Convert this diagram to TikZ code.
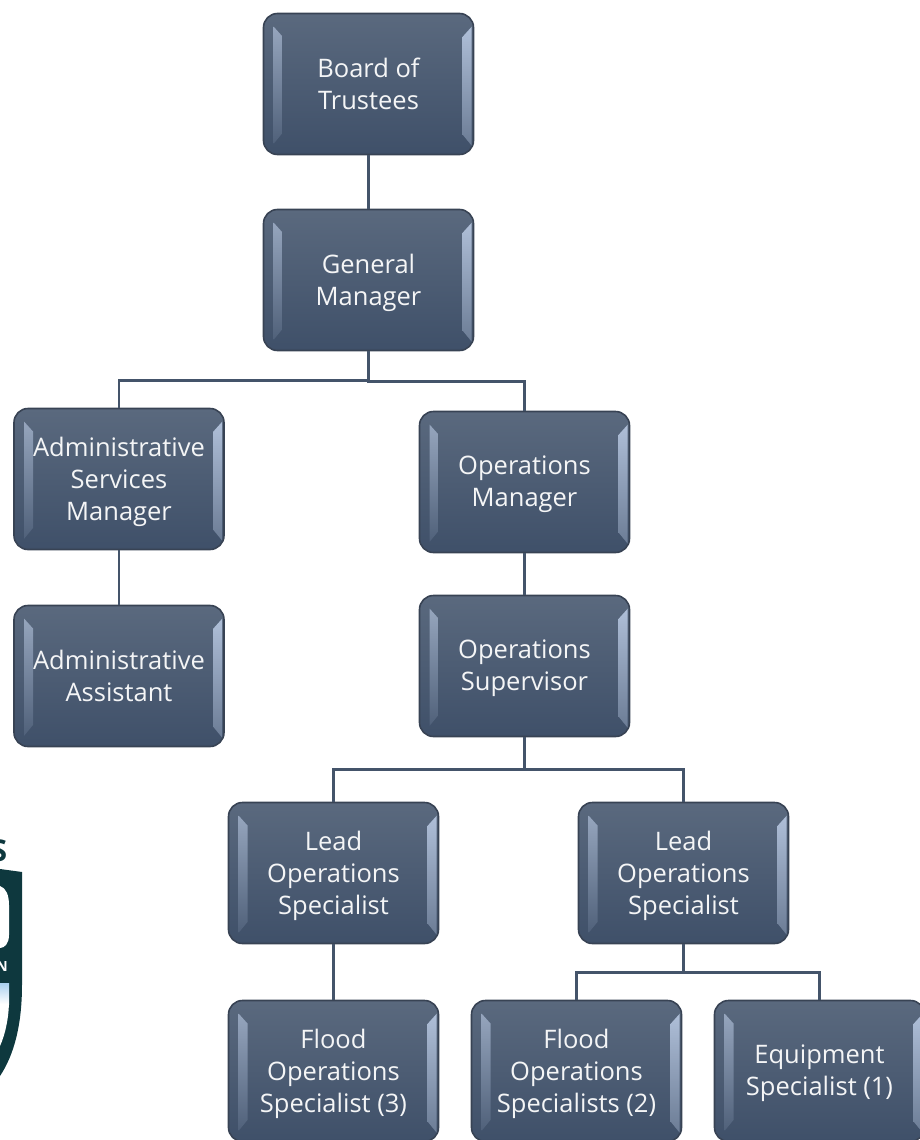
\documentclass[tikz,border=0pt]{standalone}
\usepackage{fontspec}
\setmainfont{Open Sans}
\definecolor{boxtop}{HTML}{5A697E}
\definecolor{boxbot}{HTML}{3F5069}
\definecolor{boxedge}{HTML}{384354}
\definecolor{boxlight}{HTML}{AFBFD8}
\definecolor{linkcol}{HTML}{44546A}
\definecolor{logocol}{HTML}{0E383E}
\definecolor{logosky}{HTML}{A9D0EE}
\tikzset{
	bevel left/.style={top color=boxlight!70!boxtop,middle color=boxlight!70!boxtop,bottom color=boxlight!15!boxbot},
	bevel right/.style={top color=boxlight,middle color=boxlight!55!boxtop,bottom color=boxlight!40!boxbot},
	orgbox/.style={
		draw=boxedge,line width=1.6pt,rounded corners=14pt,
		minimum width=210pt,minimum height=141pt,inner sep=0pt,
		top color=boxtop,bottom color=boxbot,text=white!93!boxtop,align=center,
		font=\fontsize{25.5}{32}\selectfont,
		text depth=1pt},
	link lines/.style={line width=2.6pt,linkcol}
}
\begin{document}
\begin{tikzpicture}[x=1pt,y=-1pt]
	\useasboundingbox (0,0) rectangle (920,1140);
	% logo at the left edge
	\fill[logocol] (0,869) -- (22,872) -- (22,985) .. controls (22,1025) and (14,1055) .. (0,1076) -- cycle;
	\fill[white] (0,886) .. controls (6,888) and (9,895) .. (9,905) -- (9,935) .. controls (9,943) and (5,948) .. (0,948) -- cycle;
	\fill[white] (0,1000) -- (9,1000) .. controls (9,1018) and (5,1035) .. (0,1046) -- cycle;
	\shade[top color=logosky,bottom color=white] (0,983) rectangle (9,1004);
	\node[inner sep=0pt,text=white,font=\fontsize{14}{14}\selectfont\bfseries] (logon) at (2,966) {N};
	\node[inner sep=0pt,text=logocol,font=\fontsize{30}{30}\selectfont\bfseries] (logos) at (-1,851) {S};

	\node[orgbox] (board) at (368.5,84) {Board of\\Trustees};
	\node[orgbox] (gm) at (368.5,280) {General\\Manager};
	\node[orgbox] (asm) at (119,479) {Administrative\\Services\\Manager};
	\node[orgbox] (aa) at (119,676) {Administrative\\Assistant};
	\node[orgbox] (om) at (524.5,482) {Operations\\Manager};
	\node[orgbox] (os) at (524.5,666) {Operations\\Supervisor};
	\node[orgbox] (lead1) at (333.5,873) {Lead\\Operations\\Specialist};
	\node[orgbox] (lead2) at (683.5,873) {Lead\\Operations\\Specialist};
	\node[orgbox] (flood3) at (333.5,1071) {Flood\\Operations\\Specialist (3)};
	\node[orgbox] (flood2) at (576.5,1071) {Flood\\Operations\\Specialists (2)};
	\node[orgbox] (equip) at (819.5,1071) {Equipment\\Specialist (1)};

	% light strips on the sides of each box
	\foreach \b in {board,gm,asm,aa,om,os,lead1,lead2,flood3,flood2,equip} {
		\begin{scope}[shift={(\b.north west)}]
			\shade[bevel left] (11,14) -- (20,24) -- (20,120) -- (11,131) -- cycle;
			\shade[bevel right] (209,14) -- (200,24) -- (200,122) -- (209,133) -- cycle;
		\end{scope}
	}

	\draw[link lines] (board) -- (gm);
	\draw[link lines] (gm.south) -- ++(0,29) -| (asm.north);
	\draw[link lines] (gm.south) -- ++(0,30) -| (om.north);
	\draw[link lines] (asm) -- (aa);
	\draw[link lines] (om) -- (os);
	\draw[link lines] (os.south) -- ++(0,32) -| (lead1.north);
	\draw[link lines] (os.south) -- ++(0,32) -| (lead2.north);
	\draw[link lines] (lead1) -- (flood3);
	\draw[link lines] (lead2.south) -- ++(0,28) -| (flood2.north);
	\draw[link lines] (lead2.south) -- ++(0,28) -| (equip.north);
\end{tikzpicture}
\end{document}
